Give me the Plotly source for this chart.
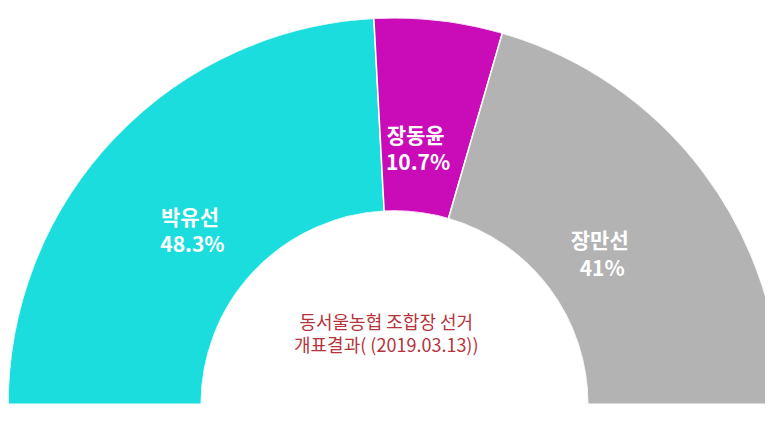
import plotly.graph_objects as go

# data
candidates = ['박유선', '장동윤', '장만선']
shares = [48.3, 10.7, 41]
share_labels = ['48.3%', '10.7%', '41%']
colors = ['#1cdddd', '#c90cb8', '#b3b3b3']
title_lines = ['동서울농협 조합장 선거', '개표결과( (2019.03.13))']

# half circle: 100% spans 180 degrees
widths = [s * 1.8 for s in shares]
centers = []
start = 0
for w in widths:
    centers.append(start + w / 2)
    start += w

fig = go.Figure()

fig.add_trace(go.Barpolar(
    r=[1] * len(shares),
    theta=centers,
    width=widths,
    marker=dict(color=colors, line=dict(color='white', width=1.5)),
    hoverinfo='text',
    hovertext=[f'{c} {l}' for c, l in zip(candidates, share_labels)],
    showlegend=False
))

# leading empty line / trailing nbsp nudge the label block like the original
pad = '\u00a0'
fig.add_trace(go.Scatterpolar(
    r=[0.39] * len(shares),
    theta=centers,
    mode='text',
    text=[f'<br><b>{c}{pad * 4}</b><br><b>{l}{pad * 3}</b>' for c, l in zip(candidates, share_labels)],
    textfont=dict(color='white', size=21, family='Noto Sans CJK KR'),
    hoverinfo='skip',
    showlegend=False
))

fig.update_layout(
    width=773,
    height=430,
    margin=dict(l=0, r=0, t=8, b=32),
    paper_bgcolor='white',
    polar=dict(
        sector=[0, 180],
        hole=0.5,
        bgcolor='white',
        domain=dict(x=[0, 1], y=[0, 1]),
        radialaxis=dict(range=[0, 1], visible=False, showgrid=False),
        angularaxis=dict(
            direction='clockwise',
            rotation=180,
            visible=False,
            showgrid=False
        ),
        bargap=0
    ),
    annotations=[dict(
        text='<br>'.join(title_lines),
        x=0.49, y=0.12,
        xref='paper', yref='paper',
        showarrow=False,
        font=dict(color='#b5343c', size=18, family='Noto Sans CJK KR')
    )]
)

fig.write_html('out.html')
